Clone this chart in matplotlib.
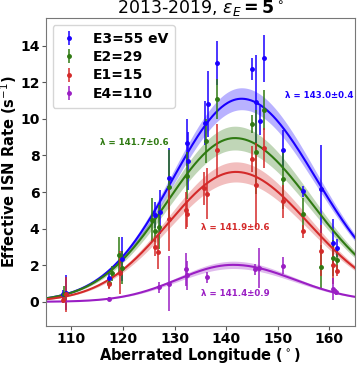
import numpy as np
import matplotlib
matplotlib.use("Agg")
import matplotlib.pyplot as plt

# data (longitude, rate, error)
e3_x = [108.3, 108.9, 117.3, 119.9, 126.2, 127.2, 128.9, 132.4, 132.7, 135.9, 136.5,
        138.2, 145.1, 145.8, 146.6, 147.4, 151.1, 154.9, 158.4, 160.7, 161.5]
e3_y = [0.40, 0.50, 1.30, 2.35, 4.75, 4.90, 6.75, 8.70, 7.70, 9.75, 10.8,
        13.05, 12.75, 10.9, 9.9, 13.3, 8.3, 6.05, 6.15, 3.2, 2.95]
e3_err = [0.25, 0.95, 0.25, 1.2, 0.7, 1.2, 1.65, 1.3, 1.6, 1.2, 1.8,
          1.2, 0.6, 2.6, 0.8, 1.3, 1.1, 0.3, 2.4, 1.3, 0.5]

e2_x = [108.6, 117.3, 117.9, 119.2, 119.9, 125.6, 126.3, 127.0, 128.9, 132.4, 136.1,
        138.2, 145.1, 145.9, 147.4, 151.1, 155.0, 158.4, 160.8, 161.5]
e2_y = [0.45, 1.05, 1.55, 2.55, 1.85, 4.45, 3.85, 4.1, 6.3, 6.9, 8.8,
        11.1, 9.7, 8.2, 10.5, 6.7, 4.8, 1.9, 2.4, 2.3]
e2_err = [0.4, 0.3, 0.4, 1.0, 0.9, 1.2, 0.6, 1.2, 2.0, 1.3, 1.2,
          1.1, 0.5, 2.3, 1.1, 1.6, 0.9, 1.2, 1.0, 0.6]

e1_x = [108.3, 108.9, 117.3, 119.4, 126.2, 126.8, 128.9, 132.3, 132.5, 135.8, 136.3,
        138.2, 145.1, 145.9, 147.4, 151.1, 155.0, 158.4, 160.8, 161.5]
e1_y = [0.12, 0.40, 0.95, 1.6, 3.0, 2.7, 4.5, 5.0, 4.8, 6.2, 5.9,
        8.3, 7.8, 6.4, 8.4, 5.5, 3.85, 2.8, 2.0, 1.7]
e1_err = [0.2, 0.95, 0.25, 1.2, 0.5, 0.9, 1.7, 1.0, 0.7, 0.9, 1.4,
          1.4, 0.7, 2.3, 1.1, 0.9, 0.35, 1.4, 1.0, 0.3]

e4_x = [117.3, 126.9, 128.9, 132.3, 132.4, 136.3, 145.6, 146.4, 151.1, 160.7, 161.4]
e4_y = [0.17, 0.80, 0.98, 1.78, 1.44, 1.34, 1.78, 1.85, 1.98, 0.71, 0.53]
e4_err = [0.1, 0.3, 1.5, 0.9, 0.8, 0.3, 0.3, 1.1, 0.45, 0.6, 0.15]

# fit curves: peak, centre, left/right width, peak uncertainty
labels = ['E3=55 eV', 'E2=29', 'E1=15', 'E4=110']
colors = ['#1a00ff', '#2f7a12', '#d42a2a', '#9a1ec4']
peaks = [11.1, 8.95, 7.1, 2.02]
centers = [143.0, 141.7, 141.9, 141.4]
center_err = [0.4, 0.6, 0.6, 0.9]
width_l = [13.3, 13.2, 13.1, 10.8]
width_r = [14.5, 14.8, 14.1, 11.8]
peak_err = [0.6, 0.65, 0.55, 0.2]
text_pos = [(158.0, 11.3), (122.2, 8.7), (141.8, 4.05), (141.8, 0.45)]

xs = [e3_x, e2_x, e1_x, e4_x]
ys = [e3_y, e2_y, e1_y, e4_y]
errs = [e3_err, e2_err, e1_err, e4_err]

fig = plt.figure(figsize=(3.57, 3.65), dpi=100)
ax = fig.add_axes([0.128, 0.108, 0.866, 0.842])

lon = np.linspace(105, 165, 300)
for i in range(4):
    w = np.where(lon < centers[i], width_l[i], width_r[i])
    g = np.exp(-(lon - centers[i])**2 / (2 * w**2))
    ax.fill_between(lon, (peaks[i] - peak_err[i]) * g, (peaks[i] + peak_err[i]) * g,
                    color=colors[i], alpha=0.3, lw=0)
    ax.plot(lon, peaks[i] * g, color=colors[i], lw=1.5)
    ax.errorbar(xs[i], ys[i], yerr=errs[i], fmt='o', ms=2.5, color=colors[i],
                elinewidth=1.1, capsize=0, label=labels[i])
    ax.text(text_pos[i][0], text_pos[i][1],
            '\u03bb = %.1f\u00b1%.1f' % (centers[i], center_err[i]),
            color=colors[i], fontsize=6.2, fontweight='bold', ha='center', va='center')

ax.set_xlim(105, 165)
ax.set_ylim(-1.3, 15.5)
ax.set_xticks([110, 120, 130, 140, 150, 160])
ax.set_yticks([0, 2, 4, 6, 8, 10, 12, 14])
for lab in ax.get_xticklabels() + ax.get_yticklabels():
    lab.set_fontweight('bold')
ax.tick_params(labelsize=10, length=3, color='#555555', pad=1.5)
for s in ax.spines.values():
    s.set_color('#777777')
ax.set_xlabel(r'Aberrated Longitude ($^\circ$)', fontsize=10.5, fontweight='bold', labelpad=0)
ax.set_ylabel(r'Effective ISN Rate (s$^{-1}$)', fontsize=10.5, fontweight='bold', labelpad=1)
ax.set_title(r'2013-2019, $\boldsymbol{\epsilon_E = 5}^\circ$', fontsize=12.5, pad=2)
ax.legend(loc='upper left', prop={'weight': 'bold', 'size': 10}, handletextpad=1.0,
          borderpad=0.5, labelspacing=0.3, handlelength=1.4)

fig.savefig('out.png', dpi=100)
